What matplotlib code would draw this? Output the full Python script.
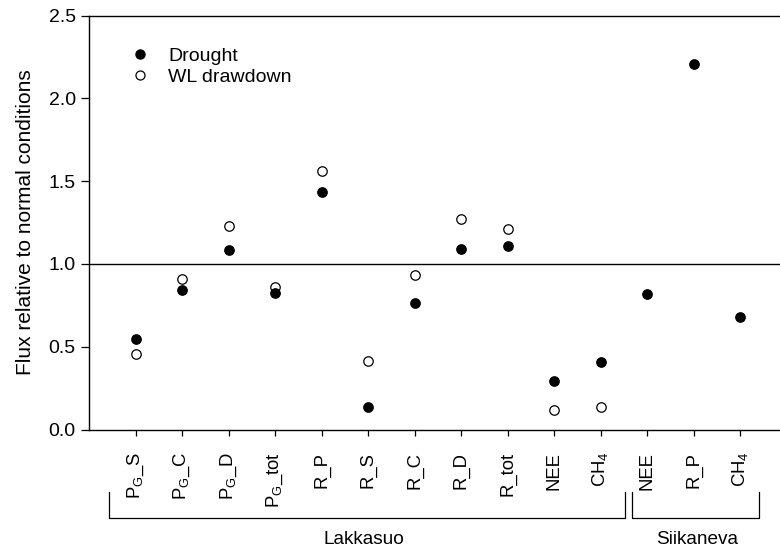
import numpy as np
import matplotlib
matplotlib.use("Agg")
import matplotlib.pyplot as plt
from matplotlib.lines import Line2D

plt.rcParams['font.family'] = ['Liberation Sans', 'DejaVu Sans']
plt.rcParams['mathtext.fontset'] = 'custom'
plt.rcParams['mathtext.rm'] = 'Liberation Sans'
plt.rcParams['mathtext.it'] = 'Liberation Sans:italic'
plt.rcParams['mathtext.bf'] = 'Liberation Sans:bold'

# ---- data ----
categories = [r'P$_\mathrm{G}$_S', r'P$_\mathrm{G}$_C', r'P$_\mathrm{G}$_D', r'P$_\mathrm{G}$_tot',
              'R_P', 'R_S', 'R_C', 'R_D', 'R_tot', 'NEE', r'CH$_4$',
              'NEE', 'R_P', r'CH$_4$']
drought = [0.547, 0.841, 1.085, 0.823, 1.434, 0.134, 0.763, 1.089, 1.111, 0.293, 0.406,
           0.819, 2.210, 0.678]
wl_drawdown = [0.455, 0.910, 1.230, 0.863, 1.559, 0.412, 0.934, 1.271, 1.212, 0.116, 0.138,
               np.nan, np.nan, np.nan]
sites = ['Lakkasuo', 'Siikaneva']
yticks = [0.0, 0.5, 1.0, 1.5, 2.0, 2.5]

W, H = 780, 551
fig = plt.figure(figsize=(W / 100, H / 100), dpi=100)
ax = fig.add_axes([89 / W, 1 - 429.5 / H, 697.5 / W, 413.8 / H])

x = np.arange(1, len(categories) + 1)
ax.plot(x, wl_drawdown, linestyle='none', marker='o', markersize=6.8,
        markerfacecolor='white', markeredgecolor='black', markeredgewidth=0.9,
        label='WL drawdown', zorder=3)
ax.plot(x, drought, linestyle='none', marker='o', markersize=6.8,
        markerfacecolor='black', markeredgecolor='black', markeredgewidth=0.9,
        label='Drought', zorder=4)

ax.axhline(1.0, color='black', lw=1.0, zorder=2)

ax.set_xlim(0, 15)
ax.set_ylim(0, 2.5)
ax.set_yticks(yticks)
ax.set_yticklabels([f'{v:.1f}' for v in yticks])
ax.set_xticks(x)
ax.set_xticklabels(categories, rotation=90, va='top', ha='center')

ax.tick_params(axis='y', direction='out', length=5.5, width=0.9, pad=4, labelsize=14)
ax.tick_params(axis='x', direction='out', length=4, width=0.9, pad=12, labelsize=13.3)

for s in ['left', 'top', 'bottom']:
    ax.spines[s].set_linewidth(1.0)
ax.spines['right'].set_visible(False)

ax.set_ylabel('Flux relative to normal conditions', fontsize=15)
ax.yaxis.set_label_coords((35 - 89) / 697.5, 0.5)

# legend
handles = [Line2D([], [], linestyle='none', marker='o', markersize=6.5, markerfacecolor='black',
                  markeredgecolor='black'),
           Line2D([], [], linestyle='none', marker='o', markersize=6.5, markerfacecolor='white',
                  markeredgecolor='black', markeredgewidth=0.9)]
ax.legend(handles, ['Drought', 'WL drawdown'], loc='upper left',
          bbox_to_anchor=((130.3 - 89) / 697.5, (429.5 - 47) / 413.8),
          frameon=False, fontsize=14, handlelength=1.0, handletextpad=0.94,
          labelspacing=0.18, borderaxespad=0, borderpad=0)

# group brackets
trans = ax.get_xaxis_transform()
brackets = [(0.421, 11.523), (11.67, 14.41)]
yb_top = (429.5 - 491.7) / 413.8
yb_bot = (429.5 - 518.3) / 413.8
label_x = [(364 - 89) / 46.5, (697 - 89) / 46.5]
ylab = (429.5 - 540) / 413.8
for (x0, x1), name, lx in zip(brackets, sites, label_x):
    ax.plot([x0, x0, x1, x1], [yb_top, yb_bot, yb_bot, yb_top], color='black', lw=0.9,
            transform=trans, clip_on=False)
    ax.text(lx, ylab, name, transform=trans, ha='center', va='center', fontsize=13.7)

fig.savefig('out.png', dpi=100)
